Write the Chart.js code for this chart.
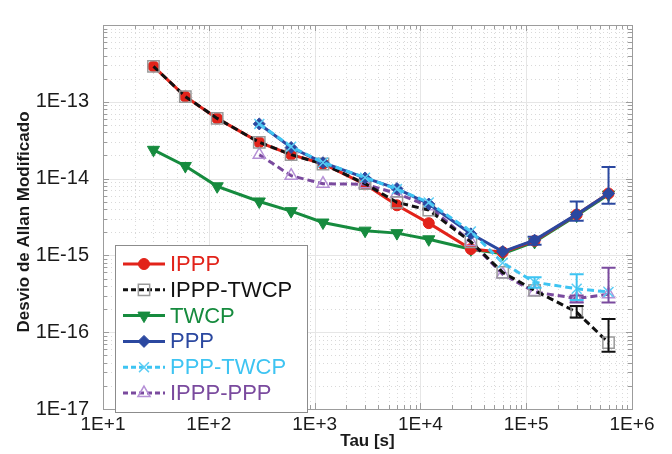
<!DOCTYPE html>
<html><head><meta charset="utf-8">
<script src="https://cdn.jsdelivr.net/npm/chart.js@4.4.1/dist/chart.umd.min.js"></script>
<style>html,body{margin:0;padding:0;background:#fff;}#wrap{width:672px;height:454px;position:relative;}</style>
</head><body><div id="wrap"><canvas id="c" width="672" height="454"></canvas></div>
<script>
// ---- data ----
const tau = [30, 60, 120, 300, 600, 1200, 3000, 6000, 12000, 30000, 60000, 120000, 300000, 600000];
const ippp     = [2.89e-13, 1.17e-13, 6.08e-14, 2.97e-14, 2.05e-14, 1.56e-14, 8.43e-15, 4.49e-15, 2.63e-15, 1.21e-15, 1.10e-15, 1.55e-15, 3.40e-15, 6.40e-15];
const ipppTwcp = [2.89e-13, 1.17e-13, 6.08e-14, 2.97e-14, 2.05e-14, 1.55e-14, 8.60e-15, 4.90e-15, 3.90e-15, 1.50e-15, 6.00e-16, 3.50e-16, 1.82e-16, 7.30e-17];
const twcp     = [2.37e-14, 1.46e-14, 7.94e-15, 5.04e-15, 3.77e-15, 2.68e-15, 2.10e-15, 1.95e-15, 1.62e-15, 1.20e-15, 1.05e-15, 1.50e-15, 3.30e-15, 6.20e-15];
const ppp      = [null, null, null, 5.15e-14, 2.54e-14, 1.61e-14, 1.02e-14, 7.41e-15, 4.67e-15, 1.91e-15, 1.12e-15, 1.58e-15, 3.42e-15, 6.41e-15];
const pppTwcp  = [null, null, null, 5.15e-14, 2.60e-14, 1.62e-14, 1.03e-14, 7.30e-15, 4.90e-15, 2.05e-15, 8.00e-16, 4.47e-16, 3.68e-16, 3.34e-16];
const ipppPpp  = [null, null, null, 2.05e-14, 1.09e-14, 8.57e-15, 8.43e-15, 6.40e-15, 4.36e-15, 1.50e-15, 5.69e-16, 3.34e-16, 2.75e-16, 3.12e-16];

// error bars (low / high) per tau index
const pppErrLo      = [null,null,null,null,null,null,null,null,null,null,null, 1.38e-15, 2.82e-15, 4.71e-15];
const pppErrHi      = [null,null,null,null,null,null,null,null,null,null,null, 1.75e-15, 5.04e-15, 1.42e-14];
const pppTwcpErrLo  = [null,null,null,null,null,null,null,null,null,null,null, 3.80e-16, 2.62e-16, null];
const pppTwcpErrHi  = [null,null,null,null,null,null,null,null,null,null,null, 5.20e-16, 5.70e-16, null];
const ipppPppErrLo  = [null,null,null,null,null,null,null,null,null,null,null, null, 2.43e-16, 2.43e-16];
const ipppPppErrHi  = [null,null,null,null,null,null,null,null,null,null,null, null, 3.00e-16, 6.90e-16];
const ipppTwcpErrLo = [null,null,null,null,null,null,null,null,null,null,null, null, 1.55e-16, 5.56e-17];
const ipppTwcpErrHi = [null,null,null,null,null,null,null,null,null,null,null, null, 2.19e-16, 1.49e-16];

const seriesNames = ['IPPP', 'IPPP-TWCP', 'TWCP', 'PPP', 'PPP-TWCP', 'IPPP-PPP'];
const xDecades = [1, 2, 3, 4, 5, 6];
const yDecades = [-17, -16, -15, -14, -13];
const xTitle = 'Tau [s]';
const yTitle = 'Desvio de Allan Modificado';

// ---- styles ----
const FONT = "'Liberation Sans', Arial, sans-serif";
const styles = [
  {color:'#e2231a', dash:[],    ps:'circle',   r:5.5, rot:0,   pFill:'#e2231a', pBorder:'#e2231a', pbw:1,   order:4},
  {color:'#111111', dash:[7,4], ps:'rect',     r:8,   rot:0,   pFill:'rgba(0,0,0,0)', pBorder:'#9a9a9a', pbw:1.5, order:2},
  {color:'#168b3e', dash:[],    ps:'triangle', r:7,   rot:180, pFill:'#168b3e', pBorder:'#168b3e', pbw:1,   order:5},
  {color:'#2b48a0', dash:[],    ps:'rectRot',  r:6,   rot:0,   pFill:'#2b48a0', pBorder:'#2b48a0', pbw:1,   order:1},
  {color:'#3ec4f2', dash:[7,4], ps:'crossRot', r:7,   rot:0,   pFill:'#3ec4f2', pBorder:'#5ccdf4', pbw:1.5, order:0},
  {color:'#7a4a9e', dash:[7,4], ps:'triangle', r:7,   rot:0,   pFill:'rgba(0,0,0,0)', pBorder:'#b590d6', pbw:1.5, order:3}
];
const seriesValues = [ippp, ipppTwcp, twcp, ppp, pppTwcp, ipppPpp];
const errBars = [
  {lo: ipppTwcpErrLo, hi: ipppTwcpErrHi, color:'#111111'},
  {lo: ipppPppErrLo,  hi: ipppPppErrHi,  color:'#7a4a9e'},
  {lo: pppTwcpErrLo,  hi: pppTwcpErrHi,  color:'#3ec4f2'},
  {lo: pppErrLo,      hi: pppErrHi,      color:'#2b48a0'}
];

const datasets = seriesNames.map((name, k) => {
  const s = styles[k];
  return {
    label: name,
    data: tau.map((t, i) => seriesValues[k][i] == null ? null : {x: t, y: seriesValues[k][i]}).filter(Boolean),
    borderColor: s.color, backgroundColor: s.pFill, borderWidth: 3, borderDash: s.dash,
    pointStyle: s.ps, pointRadius: s.r, pointRotation: s.rot,
    pointBackgroundColor: s.pFill, pointBorderColor: s.pBorder, pointBorderWidth: s.pbw,
    tension: 0, order: s.order, fill: false
  };
});

function fmtPow(v) {
  const e = Math.round(Math.log10(v));
  return '1E' + (e >= 0 ? '+' : '-') + Math.abs(e);
}

function drawMarker(ctx, s, x, y) {
  ctx.save();
  ctx.fillStyle = s.pFill; ctx.strokeStyle = s.pBorder; ctx.lineWidth = s.pbw; ctx.setLineDash([]);
  if (Chart.helpers && Chart.helpers.drawPoint) {
    Chart.helpers.drawPoint(ctx, {pointStyle: s.ps, rotation: s.rot, radius: s.r, borderWidth: s.pbw}, x, y);
  } else {
    ctx.beginPath(); ctx.arc(x, y, s.r, 0, Math.PI * 2); ctx.fill(); ctx.stroke();
  }
  ctx.restore();
}

const gridPlugin = {
  id: 'gridBox',
  beforeDatasetsDraw(chart) {
    const {ctx, chartArea: a, scales: {x, y}} = chart;
    ctx.save();
    ctx.lineWidth = 1;
    for (const e of [1,2,3,4,5]) for (let m = 1; m <= 9; m++) {
      const v = m * Math.pow(10, e);
      const px = Math.round(x.getPixelForValue(v)) + 0.5;
      if (px <= a.left + 1) continue;
      ctx.beginPath();
      if (m === 1) { ctx.strokeStyle = '#e6e6e6'; ctx.setLineDash([]); }
      else { ctx.strokeStyle = '#d9d9d9'; ctx.setLineDash([1, 3]); }
      ctx.moveTo(px, a.top); ctx.lineTo(px, a.bottom); ctx.stroke();
    }
    for (const e of [-17,-16,-15,-14,-13]) for (let m = 1; m <= 9; m++) {
      const v = Number(m + 'e' + e);
      const py = Math.round(y.getPixelForValue(v)) + 0.5;
      if (py >= a.bottom - 1) continue;
      ctx.beginPath();
      if (m === 1) { ctx.strokeStyle = '#e6e6e6'; ctx.setLineDash([]); }
      else { ctx.strokeStyle = '#d9d9d9'; ctx.setLineDash([1, 3]); }
      ctx.moveTo(a.left, py); ctx.lineTo(a.right, py); ctx.stroke();
    }
    ctx.setLineDash([]);
    ctx.strokeStyle = '#9c9c9c';
    ctx.strokeRect(Math.round(a.left) + 0.5, Math.round(a.top) + 0.5, Math.round(a.right - a.left), Math.round(a.bottom - a.top));
    ctx.beginPath();
    for (const e of [1,2,3,4,5,6]) for (let m = 1; m <= 9; m++) {
      const v = m * Math.pow(10, e);
      if (v > 1e6 || v <= 10) continue;
      const px = Math.round(x.getPixelForValue(v)) + 0.5;
      const len = m === 1 ? 6 : 4;
      ctx.moveTo(px, a.bottom); ctx.lineTo(px, a.bottom - len);
      ctx.moveTo(px, a.top); ctx.lineTo(px, a.top + len);
    }
    for (const e of [-17,-16,-15,-14,-13,-12]) for (let m = 1; m <= 9; m++) {
      const v = Number(m + 'e' + e);
      if (v > 1e-12 || v <= 1e-17) continue;
      const py = Math.round(y.getPixelForValue(v)) + 0.5;
      const len = m === 1 ? 6 : 4;
      ctx.moveTo(a.left, py); ctx.lineTo(a.left + len, py);
      ctx.moveTo(a.right, py); ctx.lineTo(a.right - len, py);
    }
    ctx.stroke();
    ctx.restore();
  }
};

const errPlugin = {
  id: 'errBars',
  afterDatasetsDraw(chart) {
    const {ctx, scales: {x, y}} = chart;
    ctx.save();
    ctx.lineWidth = 2; ctx.setLineDash([]);
    errBars.forEach(eb => {
      ctx.strokeStyle = eb.color;
      tau.forEach((t, i) => {
        if (eb.lo[i] == null) return;
        const px = x.getPixelForValue(t);
        const p1 = y.getPixelForValue(eb.lo[i]);
        const p2 = y.getPixelForValue(eb.hi[i]);
        ctx.beginPath();
        ctx.moveTo(px, p1); ctx.lineTo(px, p2);
        ctx.moveTo(px - 7, p1); ctx.lineTo(px + 7, p1);
        ctx.moveTo(px - 7, p2); ctx.lineTo(px + 7, p2);
        ctx.stroke();
      });
    });
    ctx.restore();
  }
};

const legendPlugin = {
  id: 'boxLegend',
  afterDraw(chart) {
    const {ctx, chartArea: a} = chart;
    // y axis title
    ctx.save();
    ctx.translate(24.5, 222);
    ctx.rotate(-Math.PI / 2);
    ctx.font = 'bold 17px ' + FONT;
    ctx.fillStyle = '#1a1a1a';
    ctx.textAlign = 'center'; ctx.textBaseline = 'middle';
    ctx.fillText(yTitle, 0, 0);
    ctx.restore();
    // legend box
    const bx = Math.round(a.left) + 12, by = Math.round(a.top) + 220, bw = 192, bh = 167;
    ctx.save();
    ctx.fillStyle = '#ffffff';
    ctx.fillRect(bx, by, bw, bh);
    ctx.strokeStyle = '#8c8c8c'; ctx.lineWidth = 1;
    ctx.strokeRect(bx + 0.5, by + 0.5, bw, bh);
    ctx.font = '22px ' + FONT;
    ctx.textBaseline = 'middle'; ctx.textAlign = 'left';
    seriesNames.forEach((name, k) => {
      const s = styles[k];
      const yy = by + 19 + k * 25.8;
      ctx.strokeStyle = s.color; ctx.lineWidth = 3; ctx.setLineDash(s.dash.length ? [5, 3] : []);
      ctx.beginPath(); ctx.moveTo(bx + 8, yy); ctx.lineTo(bx + 50, yy); ctx.stroke();
      ctx.setLineDash([]);
      drawMarker(ctx, s, bx + 29, yy);
      ctx.fillStyle = s.color;
      ctx.fillText(name, bx + 55, yy + 1);
    });
    ctx.restore();
  }
};

Chart.defaults.font.family = FONT;
new Chart(document.getElementById('c'), {
  type: 'line',
  data: { datasets },
  options: {
    responsive: false, animation: false,
    layout: { padding: { top: 13, right: 40, left: 0, bottom: 0 } },
    plugins: { legend: { display: false }, tooltip: { enabled: false } },
    scales: {
      x: {
        type: 'logarithmic', position: 'bottom', min: 10, max: 1e6,
        grid: { display: false, drawTicks: false, tickLength: 0 }, border: { display: false },
        afterBuildTicks: s => { s.ticks = xDecades.map(e => ({ value: Math.pow(10, e) })); },
        afterFit: s => { s.height = 45; },
        ticks: { autoSkip: false, maxRotation: 0, padding: 4, color: '#1a1a1a', font: { size: 19 }, callback: v => fmtPow(v) },
        title: { display: true, text: xTitle, color: '#1a1a1a', font: { size: 17, weight: 'bold' }, padding: { top: 0, bottom: 2 } }
      },
      y: {
        type: 'logarithmic', position: 'left', min: 1e-17, max: 1e-12,
        grid: { display: false, drawTicks: true, tickLength: 1 }, border: { display: false },
        afterBuildTicks: s => { s.ticks = yDecades.map(e => ({ value: Number('1e' + e) })); },
        afterFit: s => { s.width = 103; },
        ticks: { autoSkip: false, padding: 13, color: '#1a1a1a', font: { size: 20 }, callback: v => fmtPow(v) },
        title: { display: false }
      }
    }
  },
  plugins: [gridPlugin, errPlugin, legendPlugin]
});
</script></body></html>
